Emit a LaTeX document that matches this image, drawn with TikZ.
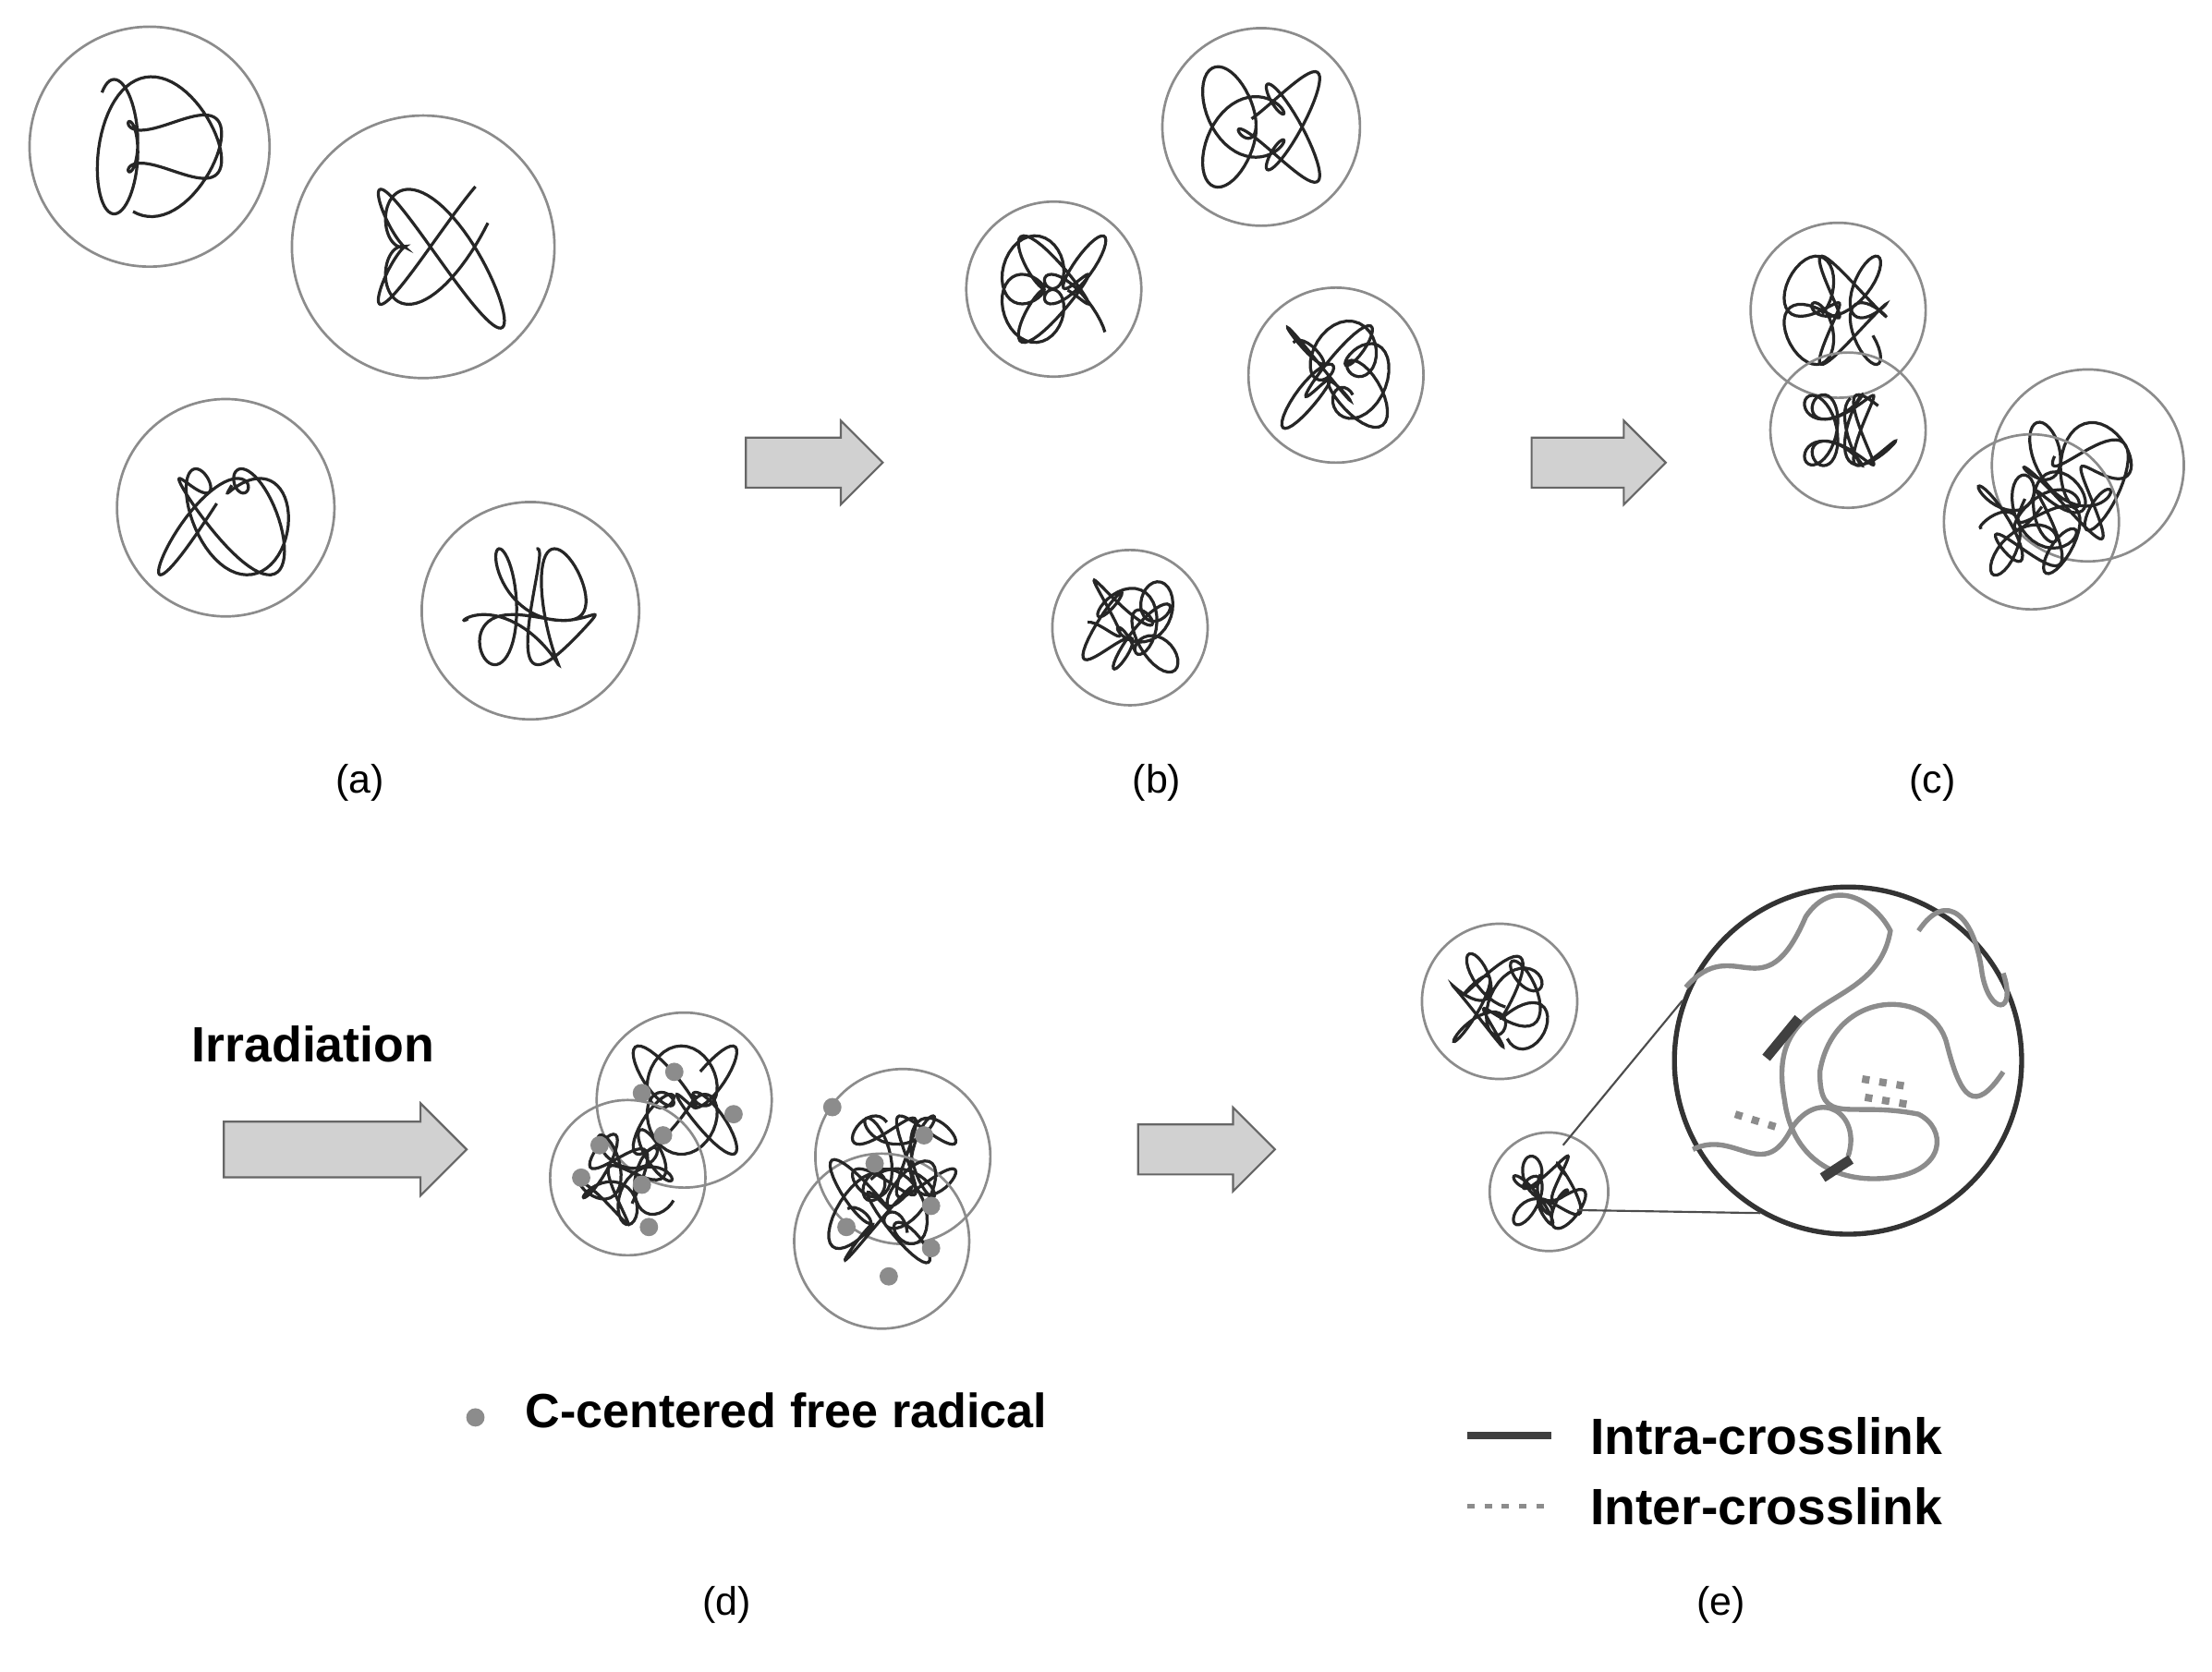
\documentclass[tikz,border=0pt]{standalone}
\usepackage{fontspec}
\setmainfont{Liberation Sans}
\usetikzlibrary{shapes.arrows}

\tikzset{
  ball/.style={circle,draw=black!45,line width=0.5pt,inner sep=0pt},
  chain/.style={draw=black!85,line width=0.6pt},
  zoomchain/.style={draw=black!45,line width=1pt},
  intra/.style={draw=black!75,line width=2pt},
  inter/.style={draw=black!45,line width=1.5pt,dotted},
  push/.style={single arrow,draw=black!60,fill=black!18,shape border rotate=0,anchor=west,
    single arrow head extend=0.12cm,single arrow tip angle=90,inner xsep=0pt,inner ysep=0.17cm},
  radical/.style={circle,fill=black!45,inner sep=0pt,minimum size=0.13cm},
  tag/.style={font=\fontsize{8}{9}\selectfont}
}
% chain: cx, cy, r, seed, wiggle
\newcommand\coil[5]{%
  \pgfmathsetseed{#4}
  \pgfmathsetmacro\pa{360*rnd}\pgfmathsetmacro\pb{360*rnd}
  \pgfmathsetmacro\pc{360*rnd}\pgfmathsetmacro\pd{360*rnd}
  \draw[chain] plot[samples=220,domain=0:330,variable=\t]
    ({#1+#3*(0.38*sin(2*\t+\pa)+0.24*sin(#5*\t+\pb))},
     {#2+#3*(0.38*cos(3*\t+\pc)+0.24*sin((#5+1)*\t+\pd))});}
\newcommand\ball[4]{\node[ball,minimum size=#4*0.02cm] (#1) at (#2,#3) {};}

\begin{document}
\begin{tikzpicture}[x=0.01cm,y=-0.01cm]
    \useasboundingbox (0,0) rectangle (1568,1185);

    % (a)
    \ball{a1}{106}{104}{85}   \coil{106}{104}{85}{11}{4}
    \ball{a2}{300}{175}{93}   \coil{300}{175}{93}{12}{4}
    \ball{a3}{160}{360}{77}   \coil{160}{360}{77}{13}{5}
    \ball{a4}{376}{433}{77}   \coil{376}{433}{77}{14}{5}
    \node[tag] (la) at (255,555) {(a)};

    % (b)
    \ball{b1}{894}{90}{70}    \coil{894}{90}{70}{21}{6}
    \ball{b2}{747}{205}{62}   \coil{747}{205}{62}{22}{8}
    \ball{b3}{947}{266}{62}   \coil{947}{266}{62}{23}{9}
    \ball{b4}{801}{445}{55}   \coil{801}{445}{55}{24}{9}
    \node[tag] (lb) at (820,555) {(b)};

    % (c)
    \ball{c1}{1303}{220}{62}  \coil{1303}{220}{62}{31}{8}
    \ball{c2}{1310}{305}{55}  \coil{1310}{305}{55}{32}{8}
    \ball{c3}{1480}{330}{68}  \coil{1470}{340}{68}{33}{7}
    \ball{c4}{1440}{370}{62}  \coil{1440}{370}{62}{34}{9}
    \node[tag] (lc) at (1370,555) {(c)};

    % (d)
    \ball{d1}{485}{780}{62}   \coil{485}{780}{62}{41}{8}
    \ball{d2}{445}{835}{55}   \coil{445}{835}{55}{42}{9}
    \ball{d3}{640}{820}{62}   \coil{640}{820}{62}{43}{8}
    \ball{d4}{625}{880}{62}   \coil{625}{860}{62}{44}{9}
    \foreach \x/\y in {455/775,478/760,520/790,470/805,412/835,460/870,425/812,455/840,
                       590/785,620/825,655/805,660/855,600/870,660/885,630/905}
      \node[radical] at (\x,\y) {};
    \node[font=\fontsize{10}{11}\selectfont\bfseries] (irr) at (222,740) {Irradiation};
    \node[tag] (ld) at (515,1138) {(d)};

    % (e)
    \ball{e1}{1063}{710}{55}  \coil{1063}{710}{55}{51}{9}
    \ball{e2}{1098}{845}{42}  \coil{1098}{845}{42}{52}{9}
    \node[circle,draw=black!80,line width=1pt,minimum size=2.46cm,inner sep=0pt] (zoom) at (1310,752) {};
    \draw[black!70] (1108,812) -- (zoom.160);
    \draw[black!70] (1118,858) -- (zoom.-120);
    \draw[zoomchain] (1195,700) .. controls (1230,660) and (1250,720) .. (1280,650)
        .. controls (1300,620) and (1330,640) .. (1340,660)
        .. controls (1330,720) and (1250,700) .. (1265,780)
        .. controls (1270,820) and (1300,840) .. (1340,835)
        .. controls (1380,830) and (1380,800) .. (1360,790)
        .. controls (1310,780) and (1290,800) .. (1290,760)
        .. controls (1300,700) and (1370,700) .. (1380,740)
        .. controls (1390,780) and (1400,790) .. (1420,760);
    \draw[zoomchain] (1200,815) .. controls (1230,800) and (1250,840) .. (1270,800)
        .. controls (1290,770) and (1320,790) .. (1310,820);
    \draw[zoomchain] (1360,660) .. controls (1380,630) and (1400,650) .. (1405,690)
        .. controls (1410,720) and (1430,720) .. (1420,690);
    \draw[intra] (1252,750) -- (1275,722);
    \draw[intra] (1292,835) -- (1312,822);
    \draw[inter] (1230,790) -- (1262,800);
    \draw[inter] (1320,765) -- (1350,770);
    \draw[inter] (1322,778) -- (1352,783);
    \node[tag] (le) at (1220,1138) {(e)};

    % arrows
    \node[push,minimum height=0.97cm] (p1) at (528,328) {};
    \node[push,minimum height=0.95cm] (p2) at (1085,328) {};
    \node[push,minimum height=1.72cm,inner ysep=0.19cm,single arrow head extend=0.13cm] (p3) at (158,815) {};
    \node[push,minimum height=0.97cm] (p4) at (806,815) {};

    % legends
    \node[radical] (dot) at (337,1005) {};
    \node[font=\fontsize{9.7}{11}\selectfont\bfseries,anchor=west] (ltx1) at (360,1000) {C-centered free radical};
    \coordinate (s1) at (1040,1018); \coordinate (s2) at (1100,1018);
    \coordinate (t1) at (1040,1068); \coordinate (t2) at (1100,1068);
    \draw[intra,line width=1.5pt] (s1) -- (s2);
    \draw[inter,line width=1pt] (t1) -- (t2);
    \node[font=\fontsize{10.3}{12}\selectfont\bfseries,anchor=west] (ltx2) at (1115,1018) {Intra-crosslink};
    \node[font=\fontsize{10.3}{12}\selectfont\bfseries,anchor=west] (ltx3) at (1115,1068) {Inter-crosslink};
\end{tikzpicture}
\end{document}
